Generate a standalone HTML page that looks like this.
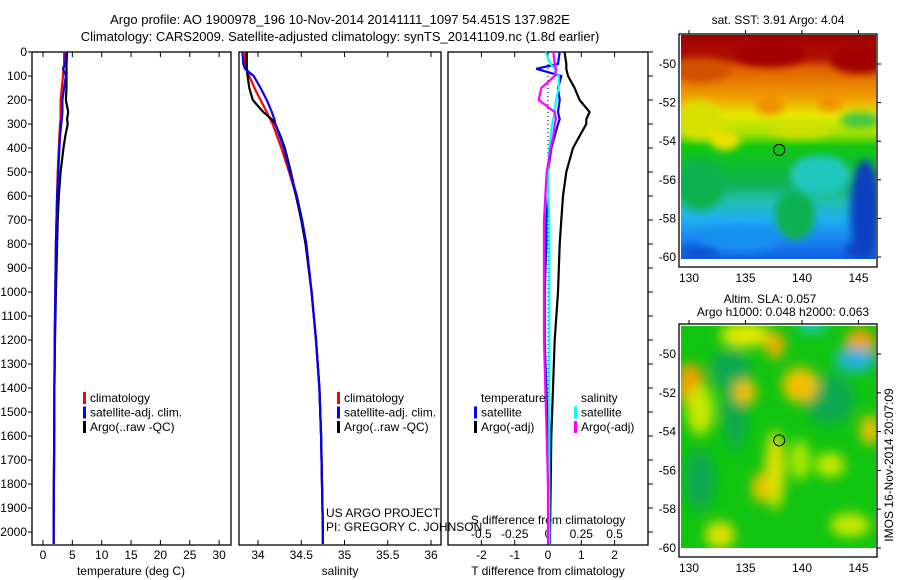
<!DOCTYPE html>
<html><head><meta charset="utf-8"><style>
body{margin:0;background:#fff;}
svg{display:block;font-family:"Liberation Sans",sans-serif;}
text{font-size:12px;fill:#000;}
</style></head><body>
<svg id="c" width="900" height="580" viewBox="0 0 900 580" xmlns="http://www.w3.org/2000/svg">
<defs>
<filter id="bl" x="-50%" y="-50%" width="200%" height="200%"><feGaussianBlur stdDeviation="6"/></filter>
<filter id="bl2" x="-50%" y="-50%" width="200%" height="200%"><feGaussianBlur stdDeviation="4"/></filter>
<clipPath id="cm1"><rect x="681" y="35" width="195" height="224"/></clipPath>
<clipPath id="cm2"><rect x="681" y="326" width="195" height="222"/></clipPath>
<linearGradient id="sst" x1="0" y1="0" x2="0" y2="1">
<stop offset="0" stop-color="#a00000"/><stop offset="0.1" stop-color="#b01000"/>
<stop offset="0.15" stop-color="#e06000"/><stop offset="0.28" stop-color="#f0a000"/>
<stop offset="0.36" stop-color="#e8e800"/><stop offset="0.44" stop-color="#a0e000"/>
<stop offset="0.5" stop-color="#10c810"/><stop offset="0.66" stop-color="#10b050"/>
<stop offset="0.74" stop-color="#20c0b0"/><stop offset="0.82" stop-color="#20b0f0"/>
<stop offset="0.92" stop-color="#1880f0"/><stop offset="1" stop-color="#1060e0"/></linearGradient>
</defs>
<text x="340" y="24" text-anchor="middle" style="font-size:13px">Argo profile: AO 1900978_196 10-Nov-2014 20141111_1097 54.451S 137.982E</text>
<text x="340" y="41" text-anchor="middle" style="font-size:13px">Climatology: CARS2009. Satellite-adjusted climatology: synTS_20141109.nc (1.8d earlier)</text>
<g id="plots"></g>
<g id="maps"></g>
</svg>
<script>
const depths=[0,50,70,100,150,200,250,280,300,350,400,500,600,700,800,1000,1200,1400,1600,1800,2000,2050];
const tempClim=[3.6,3.6,3.5,3.4,3.2,3.0,3.0,3.0,2.9,2.8,2.7,2.5,2.4,2.3,2.2,2.1,2.0,1.95,1.9,1.85,1.8,1.8];
const tempSat=[3.9,3.8,3.4,3.9,3.6,3.3,3.3,3.2,3.1,2.9,2.8,2.6,2.4,2.3,2.2,2.1,2.0,1.95,1.9,1.85,1.8,1.8];
const tempArgo=[4.1,4.0,4.0,4.0,4.0,3.9,4.3,4.1,4.2,3.8,3.5,3.0,2.7,2.5,2.4,2.2,2.05,1.95,1.9,1.85,1.8,1.8];
const salClim=[33.85,33.85,33.87,33.9,33.96,34.03,34.1,34.14,34.17,34.22,34.27,34.36,34.44,34.5,34.55,34.62,34.67,34.71,34.73,34.74,34.75,34.75];
const salSat=[33.82,33.83,33.85,33.95,34.03,34.1,34.16,34.19,34.2,34.25,34.3,34.37,34.45,34.51,34.56,34.62,34.67,34.71,34.73,34.74,34.75,34.75];
const salArgo=[33.87,33.87,33.87,33.88,33.9,33.94,34.06,34.16,34.2,34.26,34.31,34.38,34.44,34.5,34.55,34.62,34.67,34.71,34.73,34.74,34.75,34.75];
const tDiffSat=[0.35,0.3,-0.35,0.4,0.3,0.35,0.3,0.35,0.3,0.2,0.1,0.0,0.0,-0.05,-0.05,-0.1,-0.1,-0.05,0,0,0.05,0.05];
const tDiffArgo=[0.5,0.55,0.55,0.6,0.8,0.95,1.25,1.15,1.15,0.95,0.75,0.55,0.45,0.4,0.35,0.3,0.2,0.15,0.1,0.08,0.06,0.06];
const sDiffSat=[-0.02,0.02,0.05,0.08,0.08,0.06,0.05,0.04,0.03,0.02,0.01,0,0,0.01,0.01,0.01,0.01,0.01,0.01,0.01,0.01,0.01];
const sDiffArgo=[0.04,0.05,0.06,0.05,-0.05,-0.07,0.05,0.06,0.05,0.04,0.02,-0.01,-0.02,-0.03,-0.03,-0.03,-0.03,-0.02,-0.01,0,0,0];
const depthTicks=[0,100,200,300,400,500,600,700,800,900,1000,1100,1200,1300,1400,1500,1600,1700,1800,1900,2000];
const tempTicks=[0,5,10,15,20,25,30];
const salTicks=[34,34.5,35,35.5,36];
const tdTicks=[-2,-1,0,1,2];
const sdTicks=[-0.5,-0.25,0,0.25,0.5];
const latTicks=[-50,-52,-54,-56,-58,-60];
const lonTicks=[130,135,140,145];

const NS='http://www.w3.org/2000/svg';
const P=document.getElementById('plots'), M=document.getElementById('maps');
function mk(tag,attrs,parent,txt){const e=document.createElementNS(NS,tag);for(const k in attrs)e.setAttribute(k,attrs[k]);if(txt!==undefined)e.textContent=txt;(parent||P).appendChild(e);return e;}
const yD=d=>52+d*0.24;
const xT=t=>43+t*5.87;
const xS=s=>258+(s-34)*86.5;
const xTD=t=>548+t*33.3;
const xSD=s=>548+s*133.2;

function frame(x0,x1,name){const r=mk('rect',{x:x0,y:52,width:x1-x0,height:493,fill:'none',stroke:'#000','stroke-width':1.3});}
frame(32,231,'temperature-panel');frame(239,441,'salinity-panel');frame(448,648,'difference-panel');

depthTicks.forEach(d=>{const y=yD(d);
 const l=mk('line',{x1:28,x2:32,y1:y,y2:y,stroke:'#000'});
 const t=mk('text',{x:27,y:y+4,'text-anchor':'end'},P,String(d));
 const r=mk('line',{x1:648,x2:653,y1:y,y2:y,stroke:'#000'});
});
function xticks(vals,fx,yl,nm){vals.forEach(v=>{const x=fx(v);
 const a=mk('line',{x1:x,x2:x,y1:545,y2:540,stroke:'#000'});
 const b=mk('line',{x1:x,x2:x,y1:52,y2:57,stroke:'#000'});
 const t=mk('text',{x:x,y:yl,'text-anchor':'middle'},P,String(v));});}
xticks(tempTicks,xT,559,'temp');xticks(salTicks,xS,559,'salinity');xticks(tdTicks,xTD,559,'tdiff');
sdTicks.forEach(v=>{const t=mk('text',{x:xSD(v),y:538,'text-anchor':'middle'},P,String(v));});
[['temperature (deg C)',131,'temp-axis-title'],['salinity',340,'salinity-axis-title'],['T difference from climatology',548,'tdiff-axis-title']].forEach(a=>{const t=mk('text',{x:a[1],y:575,'text-anchor':'middle'},P,a[0]);});
const st=mk('text',{x:548,y:524,'text-anchor':'middle'},P,'S difference from climatology');
const zl=mk('line',{x1:548,x2:548,y1:52,y2:545,stroke:'#000','stroke-dasharray':'1,3'});

function series(vals,fx,color,name){const pts=vals.map((v,i)=>fx(v).toFixed(1)+','+yD(depths[i]).toFixed(1)).join(' ');
 const p=mk('polyline',{points:pts,fill:'none',stroke:color,'stroke-width':2.2});}
series(tempClim,xT,'#f00','temp-climatology');series(tempArgo,xT,'#000','temp-argo');series(tempSat,xT,'#00f','temp-satellite');
series(salClim,xS,'#f00','salinity-climatology');series(salArgo,xS,'#000','salinity-argo');series(salSat,xS,'#00f','salinity-satellite');
series(tDiffArgo,xTD,'#000','tdiff-argo');series(tDiffSat,xTD,'#00f','tdiff-satellite');
series(sDiffSat,xSD,'#0ff','sdiff-satellite');series(sDiffArgo,xSD,'#f0f','sdiff-argo');

function legend(x,y,items,pfx){items.forEach((it,i)=>{const yy=y+i*14.5;
 if(it[1]){const r=mk('rect',{x:x,y:yy-10,width:3,height:12,fill:it[1]});}
 const t=mk('text',{x:x+7,y:yy},P,it[0]);});}
const L3=[['climatology','#f00'],['satellite-adj. clim.','#00f'],['Argo(..raw -QC)','#000']];
legend(83,402,L3,'temp');legend(337,402,L3,'salinity');
legend(474,402,[['temperature',null],['satellite','#00f'],['Argo(-adj)','#000']],'tdiff');
legend(574,402,[['salinity',null],['satellite','#0ff'],['Argo(-adj)','#f0f']],'sdiff');
const u1=mk('text',{x:326,y:517},P,'US ARGO PROJECT');
const u2=mk('text',{x:326,y:531},P,'PI: GREGORY C. JOHNSON');

// maps
const yLat1=l=>64+(-50-l)*19.3, yLat2=l=>354+(-50-l)*19.4, xLon=l=>689+(l-130)*11.3;
function mapFrame(y0,y1,yl,nm){const r=mk('rect',{x:679,y:y0,width:198,height:y1-y0,fill:'none',stroke:'#000','stroke-width':1.3},M);
 latTicks.forEach(l=>{const y=yl(l);const a=mk('line',{x1:877,x2:881,y1:y,y2:y,stroke:'#000'},M);
  const t=mk('text',{x:676,y:y+4,'text-anchor':'end'},M,String(l));});
 lonTicks.forEach(l=>{const x=xLon(l);const a=mk('line',{x1:x,x2:x,y1:y0,y2:y0-4,stroke:'#000'},M);
  const t=mk('text',{x:x,y:y1+15,'text-anchor':'middle'},M,String(l));});}
// SST map
const g1=mk('g',{'clip-path':'url(#cm1)'},M);
mk('rect',{x:681,y:35,width:195,height:224,fill:'url(#sst)'},g1);
const b1=mk('g',{filter:'url(#bl2)'},g1);
[[700,70,30,12,'#d05000'],[860,60,30,14,'#a00000'],[770,55,35,12,'#a00000'],[770,105,14,10,'#f09000'],[830,103,12,8,'#f09000'],
 [700,120,22,20,'#d8e000'],[725,140,15,10,'#f0e000'],[800,130,30,8,'#d0e000'],[860,120,20,8,'#40c840'],
 [700,185,25,25,'#10b050'],[820,175,30,20,'#20c8c0'],[865,210,15,50,'#1040c0'],[795,215,20,25,'#10b050'],[740,240,40,12,'#1890f0'],[860,250,15,8,'#1040c0'],[700,252,20,6,'#1050d0']]
 .forEach(e=>mk('ellipse',{cx:e[0],cy:e[1],rx:e[2],ry:e[3],fill:e[4]},b1));
mapFrame(34,267,yLat1,'sst-map');
const c1=mk('circle',{cx:xLon(137.982),cy:yLat1(-54.451),r:5.5,fill:'none',stroke:'#000'},M);
const t1=mk('text',{x:778,y:24,'text-anchor':'middle'},M,'sat. SST: 3.91  Argo: 4.04');
// SLA map
const g2=mk('g',{'clip-path':'url(#cm2)'},M);
mk('rect',{x:681,y:326,width:195,height:222,fill:'#10c410'},g2);
const b2=mk('g',{filter:'url(#bl)'},g2);
[[730,370,20,20,'#10a850'],[830,400,25,25,'#10a850'],[735,410,12,40,'#10a850'],[700,480,15,30,'#10a850'],
 [690,385,14,22,'#f0a000'],[745,335,25,12,'#e8e800'],[775,345,10,14,'#f0b000'],[745,392,12,12,'#f0c000'],[800,385,18,18,'#f0c000'],[860,343,15,15,'#f0a000'],
 [855,360,20,12,'#20b0e0'],[812,325,15,8,'#20c8c0'],[775,470,10,40,'#e0e000'],[760,488,8,15,'#f0c000'],[830,465,15,12,'#c8e800'],[720,535,15,14,'#e0e000'],[850,525,20,12,'#c8e800'],[700,410,14,25,'#c8e800'],[870,430,10,15,'#f0c000'],[800,460,10,20,'#b0e800']]
 .forEach(e=>mk('ellipse',{cx:e[0],cy:e[1],rx:e[2],ry:e[3],fill:e[4]},b2));
mapFrame(324,557,yLat2,'sla-map');
const c2=mk('circle',{cx:xLon(137.982),cy:yLat2(-54.451),r:5.5,fill:'none',stroke:'#000'},M);
const t2=mk('text',{x:770,y:303,'text-anchor':'middle'},M,'Altim. SLA: 0.057');
const t3=mk('text',{x:783,y:316,'text-anchor':'middle'},M,'Argo h1000: 0.048 h2000: 0.063');
const t4=mk('text',{x:0,y:0,'text-anchor':'middle',transform:'translate(893,465) rotate(-90)'},M,'IMOS 16-Nov-2014 20:07:09');
</script>
</body></html>
